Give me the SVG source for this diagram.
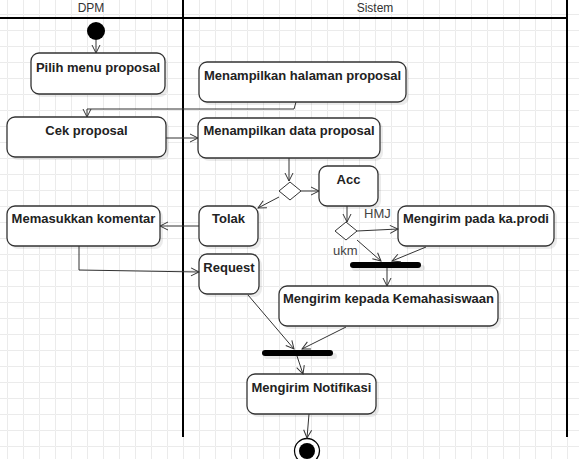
<svg xmlns="http://www.w3.org/2000/svg" width="579" height="459" viewBox="0 0 579 459">
<defs>
<pattern id="grid" x="7" y="14" width="16" height="16" patternUnits="userSpaceOnUse">
<path d="M0.5 16 V0.5 H16" fill="none" stroke="#ebebeb" stroke-width="1"/>
</pattern>
<marker id="arr" viewBox="0 0 10 10" refX="9" refY="5" markerWidth="10" markerHeight="10" markerUnits="userSpaceOnUse" orient="auto">
<path d="M1,1 L9,5 L1,9" fill="none" stroke="#333" stroke-width="1"/>
</marker>
</defs>
<style>
.box{fill:#fff;stroke:#333;stroke-width:1.3}
.sh{fill:#000;opacity:0.08}
.t{font-family:"Liberation Sans",Arial,sans-serif;font-size:13px;font-weight:bold;fill:#222;text-anchor:middle}
.lbl{font-family:"Liberation Sans",Arial,sans-serif;font-size:13px;fill:#444}
.hdr{font-family:"Liberation Sans",Arial,sans-serif;font-size:12px;fill:#333;text-anchor:middle}
.lane{stroke:#000;stroke-width:2;fill:none}
.c{fill:none;stroke:#333;stroke-width:1;marker-end:url(#arr)}
.dia{fill:#fff;stroke:#333;stroke-width:1}
.bar{stroke:#000;stroke-width:6;stroke-linecap:round}
.barsh{stroke:#000;opacity:0.08;stroke-width:6;stroke-linecap:round}
</style>
<rect width="579" height="459" fill="#fff"/>
<rect width="579" height="459" fill="url(#grid)"/>

<g id="lanes">
<line class="lane" x1="0" y1="18" x2="567" y2="18"/>
<line class="lane" x1="183" y1="0" x2="183" y2="437"/>
<line class="lane" x1="567" y1="0" x2="567" y2="437"/>
<text class="hdr" x="91" y="12">DPM</text>
<text class="hdr" x="375" y="12">Sistem</text>
</g>

<g id="start">
<circle cx="96" cy="31" r="9" fill="#000"/>
</g>

<g id="pilih">
<rect class="sh" x="34" y="56" width="134" height="41" rx="8"/>
<rect class="box" x="31" y="53" width="134" height="41" rx="8"/>
<text class="t" x="98" y="72">Pilih menu proposal</text>
</g>

<g id="halaman">
<rect class="sh" x="202" y="65" width="207" height="40" rx="8"/>
<rect class="box" x="199" y="62" width="207" height="40" rx="8"/>
<text class="t" x="302.5" y="80">Menampilkan halaman proposal</text>
</g>

<g id="cek">
<rect class="sh" x="10" y="120" width="159" height="40" rx="8"/>
<rect class="box" x="7" y="117" width="159" height="40" rx="8"/>
<text class="t" x="86.5" y="135">Cek proposal</text>
</g>

<g id="data">
<rect class="sh" x="201" y="121" width="182" height="40" rx="8"/>
<rect class="box" x="198" y="118" width="182" height="40" rx="8"/>
<text class="t" x="289" y="135">Menampilkan data proposal</text>
</g>

<g id="dec1">
<polygon class="dia" points="290,182 301,191 290,200 279,191"/>
</g>

<g id="acc">
<rect class="sh" x="322" y="169" width="59" height="40" rx="8"/>
<rect class="box" x="319" y="166" width="59" height="40" rx="8"/>
<text class="t" x="348.5" y="184">Acc</text>
</g>

<g id="tolak">
<rect class="sh" x="202" y="209" width="59" height="40" rx="8"/>
<rect class="box" x="199" y="206" width="59" height="40" rx="8"/>
<text class="t" x="228.5" y="223">Tolak</text>
</g>

<g id="komentar">
<rect class="sh" x="10" y="209" width="153" height="40" rx="8"/>
<rect class="box" x="7" y="206" width="153" height="40" rx="8"/>
<text class="t" x="83.5" y="223">Memasukkan komentar</text>
</g>

<g id="request">
<rect class="sh" x="202" y="257" width="60" height="40" rx="8"/>
<rect class="box" x="199" y="254" width="60" height="40" rx="8"/>
<text class="t" x="229" y="272">Request</text>
</g>

<g id="dec2">
<polygon class="dia" points="346,222 357,231 346,240 335,231"/>
</g>

<g id="kaprodi">
<rect class="sh" x="401" y="209" width="156" height="40" rx="8"/>
<rect class="box" x="398" y="206" width="156" height="40" rx="8"/>
<text class="t" x="476" y="223">Mengirim pada ka.prodi</text>
</g>

<g id="bar1">
<line class="barsh" x1="355" y1="268" x2="422" y2="268"/>
<line class="bar" x1="353" y1="265" x2="418" y2="265"/>
</g>

<g id="kemahasiswaan">
<rect class="sh" x="282" y="289" width="219" height="40" rx="8"/>
<rect class="box" x="279" y="286" width="219" height="40" rx="8"/>
<text class="t" x="388.5" y="303">Mengirim kepada Kemahasiswaan</text>
</g>

<g id="bar2">
<line class="barsh" x1="267" y1="356" x2="334" y2="356"/>
<line class="bar" x1="265" y1="353" x2="330" y2="353"/>
</g>

<g id="notifikasi">
<rect class="sh" x="250" y="377" width="129" height="40" rx="8"/>
<rect class="box" x="247" y="374" width="129" height="40" rx="8"/>
<text class="t" x="311.5" y="392">Mengirim Notifikasi</text>
</g>

<g id="end">
<circle cx="307" cy="451" r="12.5" fill="#fff" stroke="#000" stroke-width="1.3"/>
<circle cx="307" cy="451" r="8" fill="#000"/>
</g>

<g id="connectors">
<path class="c" d="M96 40 V53"/>
<path class="c" d="M296 102 L294 109 H87 V117"/>
<path class="c" d="M166 138 H198"/>
<path class="c" d="M289 158 V181"/>
<path class="c" d="M301 191 H319"/>
<path class="c" d="M279 197 L258 208"/>
<path class="c" d="M199 226 H160"/>
<path class="c" d="M79 246 V270 L199 272"/>
<path class="c" d="M347 206 V222"/>
<path class="c" d="M357 231 L398 229"/>
<path class="c" d="M357 240 L381 261"/>
<path class="c" d="M426 247 L392 261"/>
<path class="c" d="M387 268 V286"/>
<path class="c" d="M248 295 L294 349"/>
<path class="c" d="M346 327 L302 349"/>
<path class="c" d="M297 356 L303 374"/>
<path class="c" d="M309 414 L307 438"/>
<text class="lbl" x="364" y="218">HMJ</text>
<text class="lbl" x="333" y="255">ukm</text>
</g>
</svg>
